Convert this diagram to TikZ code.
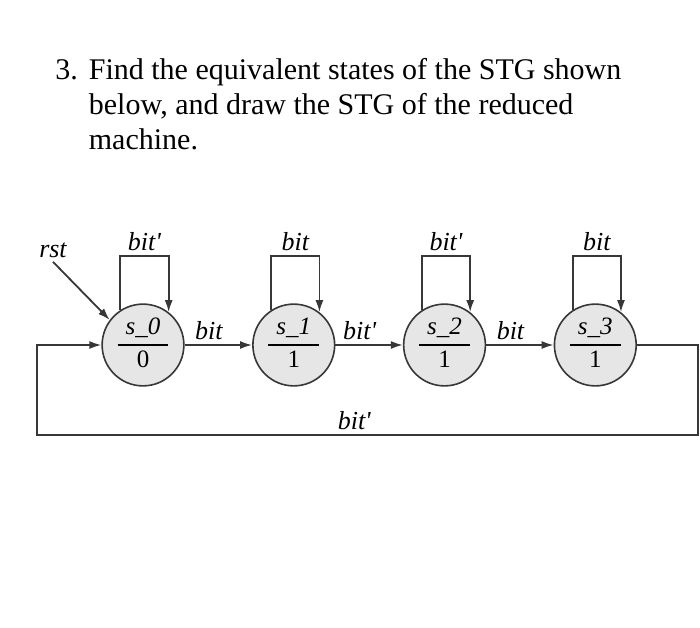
\documentclass[tikz,border=0pt]{standalone}
\usepackage{fontspec}
\setmainfont{Liberation Serif}
\newfontfamily\lblfont{Liberation Serif}[Ligatures=TeXOff]
\usetikzlibrary{arrows.meta, positioning}
\definecolor{linecolor}{RGB}{55,55,55}
\definecolor{statecolor}{RGB}{230,230,230}

% state text: name over output
\newcommand{\stlabel}[2]{%
  \setlength{\tabcolsep}{4pt}\setlength{\arrayrulewidth}{0.6pt}%
  \renewcommand{\arraystretch}{1.05}%
  \begin{tabular}{c}\textit{#1}\\\hline #2\end{tabular}}

\begin{document}
\begin{tikzpicture}[x=0.5pt, y=0.5pt,
    >={Latex[length=6pt,width=4pt]},
    st/.style={
        draw=linecolor, line width=0.8pt, circle,
        fill=statecolor, minimum size=40.5pt, inner sep=0pt,
        font=\fontsize{12.5}{15}\selectfont
    },
    edge/.style={->, draw=linecolor, line width=0.9pt},
    lbl/.style={
        font=\lblfont\fontsize{13}{15}\selectfont\itshape,
        inner sep=2pt
    },
    ttl/.style={
        font=\fontsize{15}{17.5}\selectfont,
        inner sep=0pt, align=left
    }
]
\useasboundingbox (0,0) rectangle (700,627);

% =========================
% QUESTION
% =========================
\node[ttl, anchor=base west] (task) at (55,547)
 {\begin{tabular}[t]{@{}l@{\hspace{5.5pt}}l@{}}
  3. & Find the equivalent states of the STG shown\\
     & below, and draw the STG of the reduced\\
     & machine.
  \end{tabular}};

% =========================
% STATES
% =========================
\node[st] (s0) at (143,282) {\stlabel{s\_0}{0}};
\node[st, right=33.7pt of s0] (s1) {\stlabel{s\_1}{1}};
\node[st, right=33.7pt of s1] (s2) {\stlabel{s\_2}{1}};
\node[st, right=33.7pt of s2] (s3) {\stlabel{s\_3}{1}};

% reset
\node[lbl] (rst) at (53,377) {rst};
\draw[edge] (rst.south) -- (s0.143);

% =========================
% SELF LOOPS
% =========================
\draw[edge] (s0.123) -- ++(0,54) -| (s0.52)
node[lbl, pos=0.25, above]{bit'};
\draw[edge] (s1.123) -- ++(0,54) -| (s1.52)
node[lbl, pos=0.25, above]{bit};
\draw[edge] (s2.123) -- ++(0,54) -| (s2.52)
node[lbl, pos=0.25, above]{bit'};
\draw[edge] (s3.123) -- ++(0,54) -| (s3.52)
node[lbl, pos=0.25, above]{bit};

% =========================
% TRANSITIONS
% =========================
\draw[edge] (s0) -- (s1) node[lbl, pos=0.36, above]{bit};
\draw[edge] (s1) -- (s2) node[lbl, pos=0.36, above]{bit'};
\draw[edge] (s2) -- (s3) node[lbl, pos=0.36, above]{bit};

% return to s_0
\coordinate (retR) at (698,192);
\coordinate (retL) at (37,192);
\draw[edge] (s3.east) -| (retR) -- (retL)
node[lbl, pos=0.52, above]{bit'} |- (s0.west);

\end{tikzpicture}
\end{document}
